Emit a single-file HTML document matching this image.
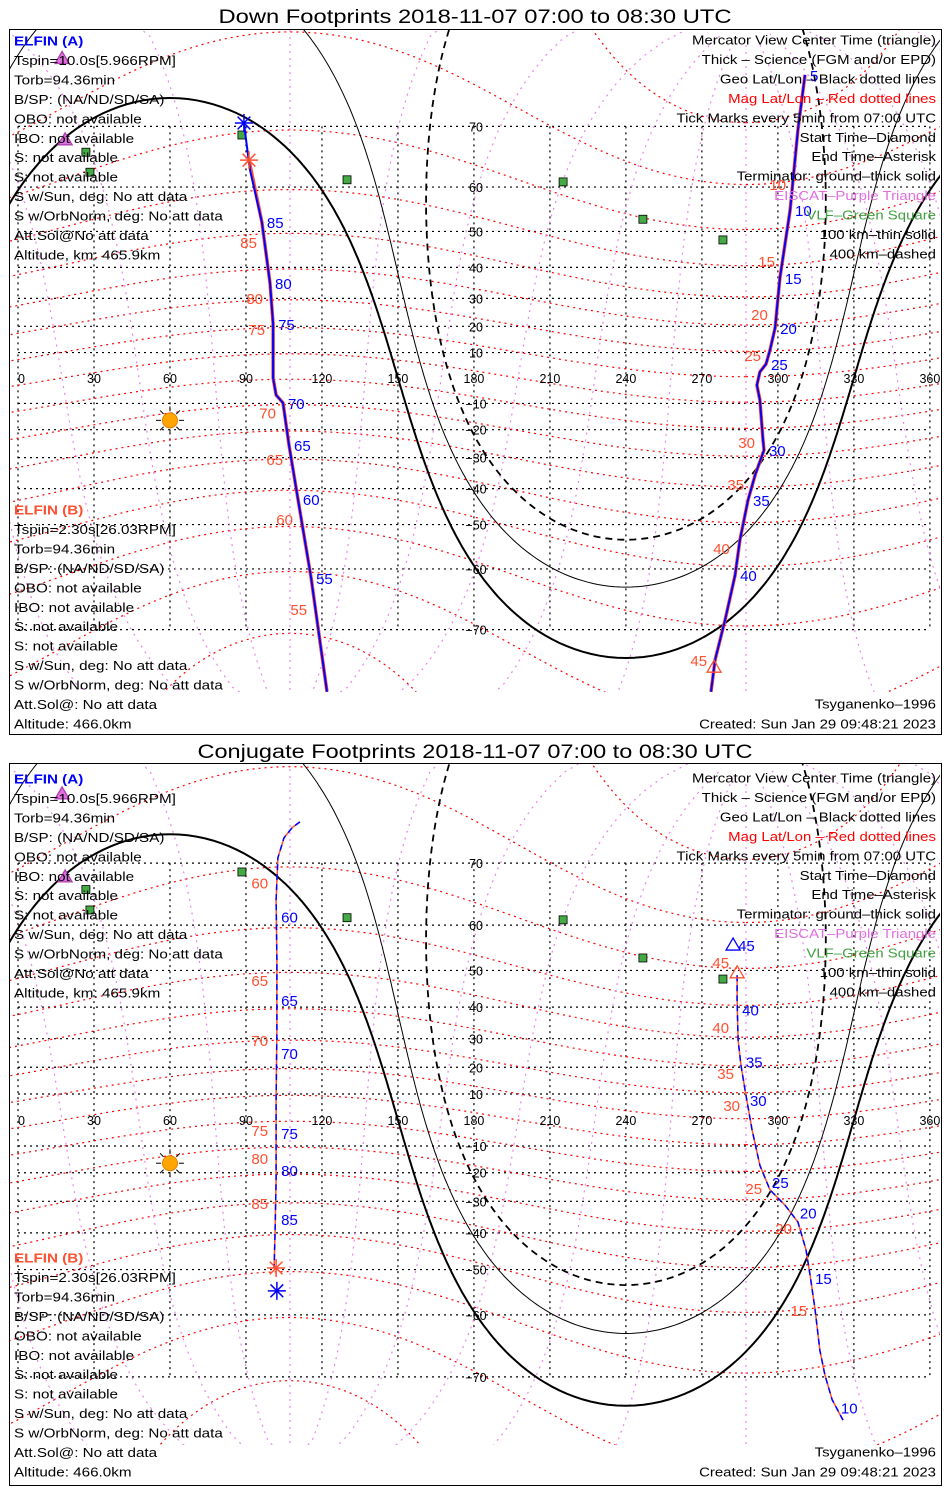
<!DOCTYPE html>
<html><head><meta charset="utf-8"><title>ELFIN Footprints</title>
<style>
html,body{margin:0;padding:0;background:#fff;overflow:hidden;width:950px;height:1500px;}
svg{display:block;font-family:"Liberation Sans",sans-serif;overflow:hidden;}
</style></head>
<body>
<svg id="chart" width="950" height="1500" viewBox="0 0 950 1500" xmlns="http://www.w3.org/2000/svg">
<defs>
<clipPath id="clip0"><rect x="10" y="30" width="930" height="662"/></clipPath>
<clipPath id="clip1"><rect x="10" y="764" width="930" height="681"/></clipPath>
</defs>
<rect x="9.5" y="29.5" width="932" height="705" fill="none" stroke="#000"/>
<rect x="9.5" y="763.5" width="932" height="722" fill="none" stroke="#000"/>
<text x="475" y="23" text-anchor="middle" font-size="19" textLength="513" lengthAdjust="spacingAndGlyphs">Down Footprints 2018-11-07 07:00 to 08:30 UTC</text>
<text x="475" y="758" text-anchor="middle" font-size="19" textLength="555" lengthAdjust="spacingAndGlyphs">Conjugate Footprints 2018-11-07 07:00 to 08:30 UTC</text>
<g id="layers"></g>
</svg>
<script>
// ---- data ----
const lonTicks = [0,30,60,90,120,150,180,210,240,270,300,330,360];
const latTicks = [70,60,50,40,30,20,10,-10,-20,-30,-40,-50,-60,-70];
const magLats = [-80,-70,-60,-50,-40,-30,-20,-10,0,10,20,30,40,50,60,70,80];
const magLons = [0,30,60,90,120,150,180,210,240,270,300,330];
const magPole = [80.5, 287.4];
const sunPos = [60, -16.5];
const termDepressions = [0, 10.1, 19.8];
const vlfLon = [26.8, 28.4, 88.4, 129.9, 215.2, 246.7, 278.3];
const vlfLat = [66.2, 62.8, 68.8, 61.4, 61.0, 53.0, 47.8];
const eiscatLon = [18.6, 17.4];
const eiscatLat = [68.1, 77.4];

// Down footprints (top)
const downA1Lon = [89.2,91.6,96.3,99.5,100.7,100.7,101.9,104.6,107.0,110.5,115.7,122.0];
const downA1Lat = [70.45,63.2,52.3,35.1,20.9,0,-6.7,-9.8,-25.6,-43.0,-61.7,-76.9];
const downB1Lon = [91.2,96.3,99.5,100.7,100.7,101.9,104.6,107.0,110.5,115.7,122.0];
const downB1Lat = [64.9,52.3,35.1,20.9,0,-6.7,-9.8,-25.6,-43.0,-61.7,-76.9];
const downA2Lon = [310.7,307.9,304.8,300.8,298.9,296.9,295.3,292.9,291.7,292.9,294.1,294.5,291.0,288.2,285.0,283.1,279.1,275.2,273.6];
const downA2Lat = [75.9,69.5,55.1,36.7,19.4,11.0,5.5,2.4,-2.8,-8.7,-23.8,-27.4,-35.8,-43.4,-53.8,-61.2,-68.7,-73.7,-76.9];
const downATickMin = [85,80,75,70,65,60,55, 5,10,15,20,25,30,35,40];
const downATickLon = [96.3,99.5,100.7,104.6,107.0,110.5,115.7, 310.7,304.8,300.8,298.9,295.3,294.5,288.2,283.1];
const downATickLat = [52.3,35.1,20.9,-9.8,-25.6,-43.0,-61.7, 75.9,55.1,36.7,19.4,5.5,-27.4,-43.4,-61.2];
const downBTickMin = [85,80,75,70,65,60,55, 10,15,20,25,30,35,40,45];
const downBTickLon = [97.5,99.9,100.7,105.0,107.8,111.7,117.3, 306.4,302.0,299.2,296.5,294.1,289.8,284.2,275.2];
const downBTickLat = [47.2,30.1,19.0,-13.6,-30.5,-48.6,-67.0, 60.6,41.9,24.5,9.1,-24.5,-38.6,-55.6,-73.7];

// Conjugate footprints (bottom)
const conjA1Lon = [111.3,108.2,105.0,102.6,101.9,102.2,102.2,101.9,101.9,101.5,101.1];
const conjA1Lat = [74.8,74.2,73.1,70.7,64.5,52.5,32.9,7.7,-22.6,-39.3,-49.6];
const conjA2Lon = [283.9,283.9,284.3,285.4,287.0,289.8,292.9,296.9,302.8,307.9,311.1,312.7,314.7,316.6,318.6,321.4,325.7];
const conjA2Lat = [48.8,42.0,29.6,20.9,11.6,-3.9,-17.3,-26.1,-31.3,-36.7,-44.8,-51.4,-59.0,-66.2,-69.8,-72.8,-75.0];
const conjATickMin = [60,65,70,75,80,85, 45,40,35,30,25,20,15,10];
const conjATickLon = [101.9,101.9,101.9,101.9,101.9,101.9, 282.3,283.9,285.4,287.0,295.7,306.7,312.7,322.9];
const conjATickLat = [61.6,42.0,25.1,-5.0,-19.0,-35.8, 55.9,39.3,22.0,7.7,-23.3,-33.7,-52.1,-73.7];
const conjBTickMin = [60,65,70,75,80,85, 45,40,35,30,25,20,15];
const conjBTickLon = [101.9,101.9,101.9,101.9,101.9,101.9, 283.9,283.9,285.8,288.2,296.9,308.7,314.7];
const conjBTickLat = [67.3,47.5,29.6,-3.9,-14.5,-30.6, 52.1,33.8,17.9,5.8,-25.4,-38.5,-59.0];

// markers
const downEndA = [89.2,70.45], downEndB = [91.2,64.9], downTriB = [274.8,-74.5];
const conjEndA = [102.2,-55.0], conjEndB = [101.9,-49.6], conjTriA = [282.3,55.9], conjTriB = [283.9,49.4];

// ---- drawing ----
const NS = "http://www.w3.org/2000/svg";
const layers = document.getElementById('layers');
const D = Math.PI/180;
const panels = [{y0:378,R:145,clip:'clip0',top:30,bot:692},{y0:1120,R:148,clip:'clip1',top:764,bot:1445}];
function xOf(lon){return 18 + lon*2.533;}
function yOf(p,lat){const l=Math.max(-88,Math.min(88,lat));return p.y0 - p.R*Math.log(Math.tan(Math.PI/4 + l*D/2));}
function cx(x){return Math.max(-5,Math.min(955,x));}
function mk(tag, attrs, parent){const e=document.createElementNS(NS,tag);for(const k in attrs)e.setAttribute(k,attrs[k]);(parent||layers).appendChild(e);return e;}
function polyPath(p, lons, lats){let d='';for(let i=0;i<lons.length;i++){if(lons[i]===null){continue;}const brk=(i===0||lons[i-1]===null);
  const x=cx(xOf(lons[i])), y=Math.max(p.top-5,Math.min(p.bot+5,yOf(p,lats[i])));
  d+=(brk?'M':'L')+x.toFixed(1)+','+y.toFixed(1);}return d;}
function magToGeo(mlat, mlon){
  const cl=Math.cos(mlat*D);const v=[cl*Math.cos(mlon*D),cl*Math.sin(mlon*D),Math.sin(mlat*D)];
  const c=(90-magPole[0])*D, l=magPole[1]*D;
  const a=[Math.cos(c)*v[0]+Math.sin(c)*v[2], v[1], -Math.sin(c)*v[0]+Math.cos(c)*v[2]];
  const g=[Math.cos(l)*a[0]-Math.sin(l)*a[1], Math.sin(l)*a[0]+Math.cos(l)*a[1], a[2]];
  let lon=Math.atan2(g[1],g[0])/D; if(lon<0)lon+=360;
  return [lon, Math.asin(Math.max(-1,Math.min(1,g[2])))/D];
}
function geoCurve(pts){
  const lons=[pts[0][0]], lats=[pts[0][1]];
  for(let i=1;i<pts.length;i++){let L=pts[i][0];const prev=lons[lons.length-1];while(L-prev>180)L-=360;while(L-prev<-180)L+=360;lons.push(L);lats.push(pts[i][1]);}
  return [lons,lats];
}
function star(g,x,y,r,col){
  for(let k=0;k<4;k++){const a=k*Math.PI/4;
    const el=mk('line',{x1:x-r*Math.cos(a),y1:y-r*Math.sin(a),x2:x+r*Math.cos(a),y2:y+r*Math.sin(a),stroke:col,'stroke-width':1.5},g);
    
    }
}
function tri(g,x,y,fill,stroke){
  return mk('polygon',{points:`${x},${y-7} ${x-7},${y+5} ${x+7},${y+5}`,fill:fill,stroke:stroke,'stroke-width':1.3},g);
}

panels.forEach((p,pi)=>{
  const g=mk('g',{'clip-path':`url(#${p.clip})`});
  
  
  latTicks.forEach(lat=>{
    const y=yOf(p,lat);
    const el=mk('line',{x1:xOf(0),y1:y,x2:xOf(360),y2:y,stroke:'#000','stroke-width':1.2,'stroke-dasharray':'2 4'},g);
    
    
  });
  lonTicks.forEach(lon=>{
    const x=xOf(lon);
    const el=mk('line',{x1:x,y1:yOf(p,70),x2:x,y2:yOf(p,-70),stroke:'#000','stroke-width':1.2,'stroke-dasharray':'2 4'},g);
    
    
  });
  magLats.forEach(ml=>{
    const pts=[];for(let m=0;m<=360;m+=2)pts.push(magToGeo(ml,m));
    const [lons,lats]=geoCurve(pts);
    [-360,0,360].forEach(s=>{
      const el=mk('path',{d:polyPath(p,lons.map(v=>v+s),lats),fill:'none',stroke:'#ff0000','stroke-width':1.2,'stroke-dasharray':'2 4'},g);
      
      
    });
  });
  magLons.forEach(mo=>{
    const pts=[];for(let m=-88;m<=88;m+=2)pts.push(magToGeo(m,mo));
    const [lons,lats]=geoCurve(pts);
    [-360,0,360].forEach(s=>{
      const el=mk('path',{d:polyPath(p,lons.map(v=>v+s),lats),fill:'none',stroke:'#ee82ee','stroke-width':1.2,'stroke-dasharray':'2 5'},g);
      
      
    });
  });
  termDepressions.forEach((dep,ti)=>{
    const s=sunPos[1]*D, dl=(90+dep)*D;
    const pts=[];
    for(let a=0;a<=360;a+=1){
      const az=a*D;
      const lat=Math.asin(Math.sin(s)*Math.cos(dl)+Math.cos(s)*Math.sin(dl)*Math.cos(az));
      const lon=sunPos[0]+Math.atan2(Math.sin(az)*Math.sin(dl)*Math.cos(s),Math.cos(dl)-Math.sin(s)*Math.sin(lat))/D;
      pts.push([lon,lat/D]);
    }
    const [lons,lats]=geoCurve(pts);
    const st={fill:'none',stroke:'#000','stroke-width':ti===0?2:(ti===1?1:1.8)};
    if(ti===2)st['stroke-dasharray']='7 5';
    [-720,-360,0,360,720].forEach(sh=>{
      const el=mk('path',Object.assign({d:polyPath(p,lons.map(v=>v+sh),lats)},st),g);
      
      
    });
  });
  const sx=xOf(sunPos[0]), sy=yOf(p,sunPos[1]);
  const sg=mk('g',{},g);
  
  
  for(let k=0;k<8;k++){const a=k*Math.PI/4;mk('line',{x1:sx+9*Math.cos(a),y1:sy+9*Math.sin(a),x2:sx+14*Math.cos(a),y2:sy+14*Math.sin(a),stroke:'#000','stroke-width':1},sg);}
  mk('circle',{cx:sx,cy:sy,r:7.5,fill:'#ffa500',stroke:'#e08000'},sg);
  vlfLon.forEach((lon,i)=>{
    const el=mk('rect',{x:xOf(lon)-4,y:yOf(p,vlfLat[i])-4,width:8,height:8,fill:'#44aa44',stroke:'#000','stroke-width':0.8},g);
    
    
  });
  eiscatLon.forEach((lon,i)=>{
    const el=tri(g,xOf(lon),yOf(p,eiscatLat[i]),'#e070e0','#b040b0');
    
    
  });
  lonTicks.forEach(lon=>{
    const el=mk('text',{x:xOf(lon),y:yOf(p,0)+5,'text-anchor':lon===0?'start':'middle','font-size':12.5,fill:'#000'},g);
    el.textContent=String(lon);
    
    
  });
  latTicks.forEach(lat=>{
    const el=mk('text',{x:476,y:yOf(p,lat)+5,'text-anchor':'middle','font-size':12.5,fill:'#000'},g);
    el.textContent=lat<0?'\u2212'+(-lat):String(lat);
    
    
  });

  const tg=mk('g',{},g);
  
  
  const tracks = pi===0
    ? [[downB1Lon,downB1Lat,'#ff5030',3.5,null,'elfin-b-track'],[downA2Lon,downA2Lat,'#ff5030',3.5,null,'elfin-b-track'],[downA1Lon,downA1Lat,'#0000ff',2,null,'elfin-a-track'],[downA2Lon,downA2Lat,'#0000ff',2,null,'elfin-a-track']]
    : [[conjA1Lon,conjA1Lat,'#ff5030',1.5,null,'elfin-b-track'],[conjA2Lon,conjA2Lat,'#ff5030',1.5,null,'elfin-b-track'],[conjA1Lon,conjA1Lat,'#0000ff',1.5,'6 4','elfin-a-track'],[conjA2Lon,conjA2Lat,'#0000ff',1.5,'6 4','elfin-a-track']];
  tracks.forEach(t=>{
    const at={d:polyPath(p,t[0],t[1]),fill:'none',stroke:t[2],'stroke-width':t[3],'stroke-linejoin':'round'};
    if(t[4])at['stroke-dasharray']=t[4];
    const el=mk('path',at,tg);
    
    
  });
  const aMin=pi===0?downATickMin:conjATickMin, aLon=pi===0?downATickLon:conjATickLon, aLat=pi===0?downATickLat:conjATickLat;
  const bMin=pi===0?downBTickMin:conjBTickMin, bLon=pi===0?downBTickLon:conjBTickLon, bLat=pi===0?downBTickLat:conjBTickLat;
  aMin.forEach((m,i)=>{
    const el=mk('text',{x:xOf(aLon[i])+5,y:yOf(p,aLat[i])+6,'font-size':15,fill:'#0000ff'},tg);
    el.textContent=String(m);
    
    
  });
  bMin.forEach((m,i)=>{
    const el=mk('text',{x:xOf(bLon[i])-8,y:yOf(p,bLat[i])+6,'text-anchor':'end','font-size':15,fill:'#ff5030'},tg);
    el.textContent=String(m);
    
    
  });
  const eA=pi===0?downEndA:conjEndA, eB=pi===0?downEndB:conjEndB;
  const ga=mk('g',{},tg);
  star(ga,xOf(eA[0]),yOf(p,eA[1]),9,'#0000ff');
  const gb=mk('g',{},tg);
  star(gb,xOf(eB[0]),yOf(p,eB[1]),9,'#ff5030');
  if(pi===0){const el=tri(tg,xOf(downTriB[0]),yOf(p,downTriB[1]),'none','#ff5030');}
  else{
    const e1=tri(tg,xOf(conjTriA[0]),yOf(p,conjTriA[1]),'none','#0000ff');
    const e2=tri(tg,xOf(conjTriB[0]),yOf(p,conjTriB[1]),'none','#ff5030');
  }
});

const infoA=["ELFIN (A)","Tspin=10.0s[5.966RPM]","Torb=94.36min","B/SP: (NA/ND/SD/SA)","OBO: not available","IBO: not available","S: not available","S: not available","S w/Sun, deg: No att data","S w/OrbNorm, deg: No att data","Att.Sol@No att data","Altitude, km: 465.9km"];
const infoB=["ELFIN (B)","Tspin=2.30s[26.03RPM]","Torb=94.36min","B/SP: (NA/ND/SD/SA)","OBO: not available","IBO: not available","S: not available","S: not available","S w/Sun, deg: No att data","S w/OrbNorm, deg: No att data","Att.Sol@: No att data","Altitude: 466.0km"];
const legendLines=["Mercator View Center Time (triangle)","Thick \u2013 Science (FGM and/or EPD)","Geo Lat/Lon \u2013 Black dotted lines","Mag Lat/Lon \u2013 Red dotted lines","Tick Marks every 5min from 07:00 UTC","Start Time\u2013Diamond","End Time\u2013Asterisk","Terminator: ground\u2013thick solid","EISCAT\u2013Purple Triangle","VLF\u2013Green Square","100 km\u2013thin solid","400 km\u2013dashed"];
const legendColors=['#000','#000','#000','#ff0000','#000','#000','#000','#000','#e070e0','#40a040','#000','#000'];
function stretch(el,f){try{const w=el.getComputedTextLength();if(w>0){el.setAttribute('textLength',(w*f).toFixed(1));el.setAttribute('lengthAdjust','spacingAndGlyphs');}}catch(e){}}
[[0,0],[738,748]].forEach((off,pi)=>{
  const g=mk('g',{});
  
  
  infoA.forEach((s,i)=>{
    const el=mk('text',{x:14,y:45.5+19.45*i+off[0],'font-size':13,fill:i===0?'#0000ff':'#000','font-weight':i===0?'bold':'normal'},g);
    el.textContent=s;
    
    
    stretch(el,1.17);
  });
  infoB.forEach((s,i)=>{
    const el=mk('text',{x:14,y:514.5+19.45*i+off[1],'font-size':13,fill:i===0?'#ff5030':'#000','font-weight':i===0?'bold':'normal'},g);
    el.textContent=s;
    
    
    stretch(el,1.17);
  });
  legendLines.forEach((s,i)=>{
    const el=mk('text',{x:936,y:44.5+19.45*i+off[0],'text-anchor':'end','font-size':13,fill:legendColors[i]},g);
    el.textContent=s;
    
    
    stretch(el,1.15);
  });
  const m1=mk('text',{x:936,y:708.5+off[1],'text-anchor':'end','font-size':13},g);
  m1.textContent="Tsyganenko\u20131996";
  
  
  stretch(m1,1.15);
  const m2=mk('text',{x:936,y:728.5+off[1],'text-anchor':'end','font-size':13},g);
  m2.textContent="Created: Sun Jan 29 09:48:21 2023";
  
  
  stretch(m2,1.15);
});
</script>
</body></html>
